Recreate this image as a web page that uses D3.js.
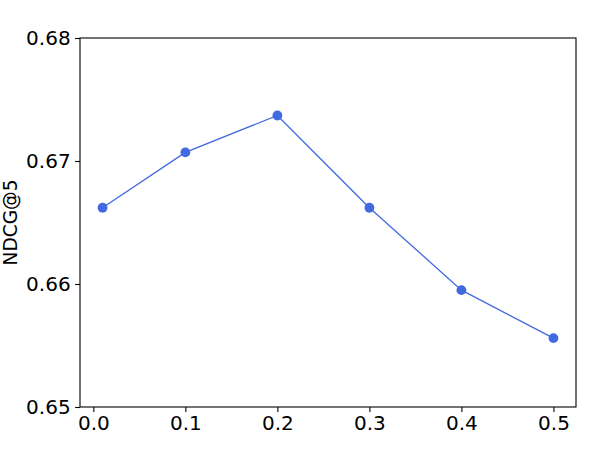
<!DOCTYPE html>
<html>
<head>
<meta charset="utf-8">
<script src="https://cdn.jsdelivr.net/npm/d3@7"></script>
<style>
  body { margin: 0; background: #fff; }
  text { font-family: "DejaVu Sans", sans-serif; fill: #000; }
</style>
</head>
<body>
<div id="chart"></div>
<script>
// data
var xValues = [0.01, 0.1, 0.2, 0.3, 0.4, 0.5];
var ndcgValues = [0.6662, 0.6707, 0.6737, 0.6662, 0.6595, 0.6556];
var xTicks = [0.0, 0.1, 0.2, 0.3, 0.4, 0.5];
var yTicks = [0.65, 0.66, 0.67, 0.68];

var margin = { top: 38, right: 24, bottom: 43, left: 80 },
    width = 600 - margin.left - margin.right,
    height = 450 - margin.top - margin.bottom;

var svg = d3.select("#chart")
    .append("svg")
    .attr("width", 600)
    .attr("height", 450)
    .append("g")
    .attr("transform", "translate(" + margin.left + "," + margin.top + ")");

var x = d3.scaleLinear().domain([-0.0145, 0.5245]).range([0, width]);
var y = d3.scaleLinear().domain([0.65, 0.68]).range([height, 0]);

// x axis
var xAxis = d3.axisBottom(x).tickValues(xTicks).tickFormat(d3.format(".1f"))
    .tickSizeInner(4.9).tickSizeOuter(0).tickPadding(4);
svg.append("g")
    .attr("transform", "translate(0," + height + ")")
    .call(xAxis);

// y axis
var yAxis = d3.axisLeft(y).tickValues(yTicks).tickFormat(d3.format(".2f"))
    .tickSizeInner(4.9).tickSizeOuter(0).tickPadding(4.5);
svg.append("g")
    .call(yAxis);

svg.selectAll(".tick text")
    .style("font-size", "20px")
    .style("font-family", "'DejaVu Sans', sans-serif");
svg.selectAll(".tick line").attr("stroke", "#000").attr("stroke-width", 1.1);
svg.selectAll(".domain").remove();

// frame
svg.append("rect")
    .attr("x", 0).attr("y", 0)
    .attr("width", width).attr("height", height)
    .attr("fill", "none")
    .attr("stroke", "#000")
    .attr("stroke-width", 1.1);

// y label
svg.append("text")
    .attr("transform", "translate(" + (17 - margin.left) + "," + (height / 2) + ") rotate(-90)")
    .attr("text-anchor", "middle")
    .style("font-size", "18.6px")
    .text("NDCG@5");

// line
var data = xValues.map(function (d, i) { return { x_value: d, y_value: ndcgValues[i] }; });

svg.append("path")
    .datum(data)
    .attr("d", d3.line()
        .x(function (d) { return x(d.x_value); })
        .y(function (d) { return y(d.y_value); }))
    .attr("fill", "none")
    .attr("stroke", "royalblue")
    .attr("stroke-width", 1.3);

svg.selectAll(".dot")
    .data(data)
    .enter()
    .append("circle")
    .attr("class", "dot")
    .attr("cx", function (d) { return x(d.x_value); })
    .attr("cy", function (d) { return y(d.y_value); })
    .attr("r", 4.9)
    .attr("fill", "royalblue");
</script>
</body>
</html>
